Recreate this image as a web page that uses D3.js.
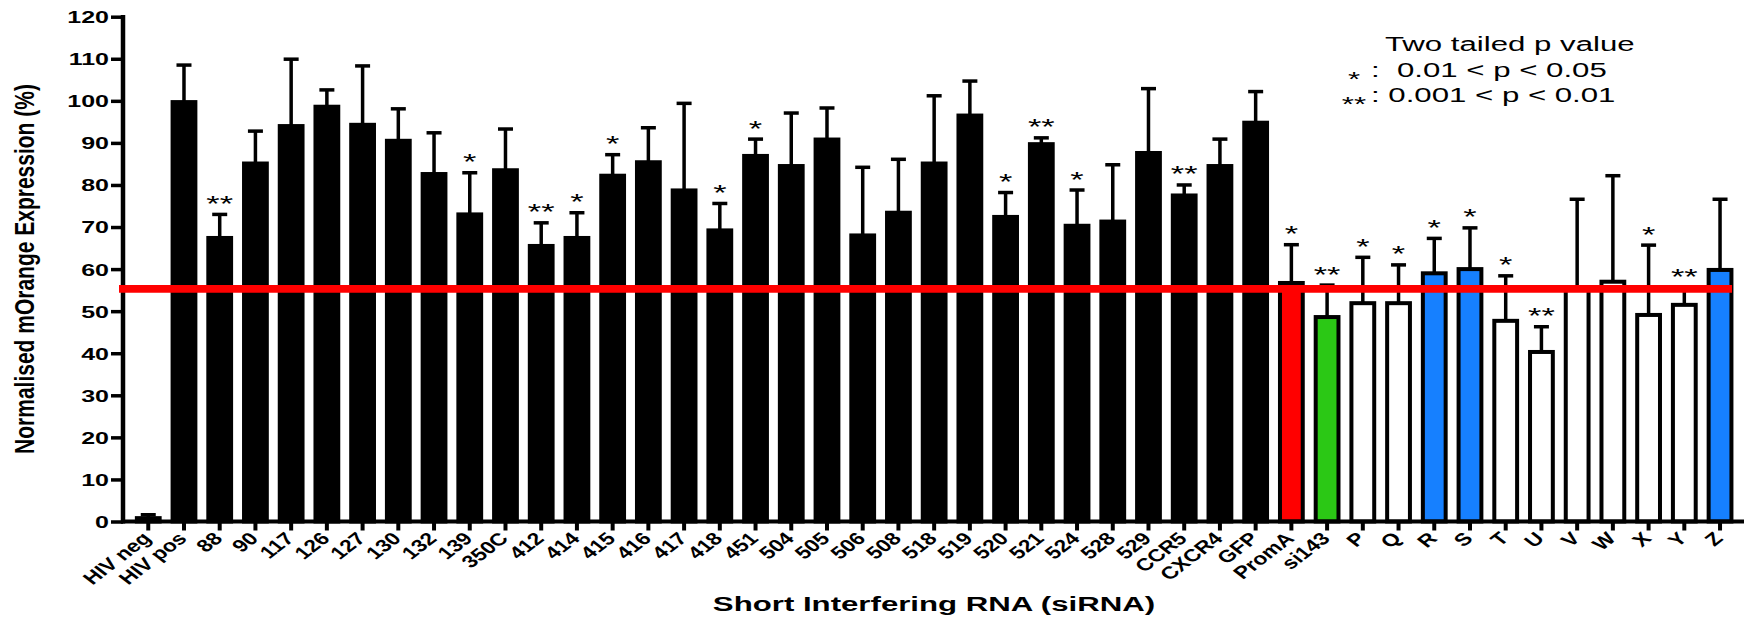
<!DOCTYPE html>
<html>
<head>
<meta charset="utf-8">
<script src="https://cdn.jsdelivr.net/npm/d3@7"></script>
<style>
  body { margin: 0; background: #fff; }
  svg { display: block; }
  text { font-family: "Liberation Sans", Arial, sans-serif; fill: #000; white-space: pre; }
</style>
</head>
<body>
<svg id="chart" width="1744" height="624"></svg>
<script>
// ---- data ----
const categories = ["HIV neg","HIV pos","88","90","117","126","127","130","132","139","350C","412","414","415","416","417","418","451","504","505","506","508","518","519","520","521","524","528","529","CCR5","CXCR4","GFP","PromA","si143","P","Q","R","S","T","U","V","W","X","Y","Z"];
const means = [0.8, 99.7, 67.4, 85.1, 94.0, 98.6, 94.3, 90.5, 82.6, 73.0, 83.5, 65.5, 67.4, 82.2, 85.4, 78.7, 69.2, 86.9, 84.5, 90.8, 68.0, 73.4, 85.1, 96.5, 72.4, 89.7, 70.3, 71.3, 87.6, 77.5, 84.5, 94.8, 56.7, 48.6, 51.9, 51.9, 59.0, 60.0, 47.7, 40.3, 55.5, 57.0, 49.1, 51.5, 59.8];
const sems = [0.8, 8.8, 5.6, 7.7, 15.9, 4.0, 14.0, 7.6, 9.8, 9.9, 9.8, 5.5, 6.0, 5.0, 8.2, 20.7, 6.4, 4.0, 12.6, 7.5, 16.2, 12.7, 16.1, 8.2, 5.8, 1.5, 8.5, 13.5, 15.3, 2.5, 6.4, 7.4, 9.1, 7.6, 10.9, 9.1, 8.3, 9.8, 10.7, 6.0, 21.1, 25.2, 16.6, 4.1, 16.8];
const significance = ["","","**","","","","","","","*","","**","*","*","","","*","*","","","","","","","*","**","*","","","**","","","*","**","*","*","*","*","*","**","","","*","**",""];
const barGroups = ["screen","screen","screen","screen","screen","screen","screen","screen","screen","screen","screen","screen","screen","screen","screen","screen","screen","screen","screen","screen","screen","screen","screen","screen","screen","screen","screen","screen","screen","screen","screen","screen","promA","si143","candidate","candidate","selected","selected","candidate","candidate","candidate","candidate","candidate","candidate","selected"];
const yTicks = [0, 10, 20, 30, 40, 50, 60, 70, 80, 90, 100, 110, 120];
const threshold = 55.3;
const yTitle = "Normalised mOrange Expression (%)";
const xTitle = "Short Interfering RNA (siRNA)";
const legendTitle = "Two tailed p value";
const legendStars = ["*", "**"];
const legendRanges = [":  0.01 < p < 0.05", ": 0.001 < p < 0.01"];

// ---- styling ----
const groupFill = { screen: "#000000", promA: "#ff0000", si143: "#2bc815", candidate: "#ffffff", selected: "#1680ff" };
const SX = 1.56;            // horizontal stretch applied to the lettering
const svg = d3.select("#chart");

const x = d3.scaleBand().domain(categories).range([130.4, 1737.9]).paddingInner(0.25).paddingOuter(0.125);
const y = d3.scaleLinear().domain([0, 120]).range([521.5, 16.7]);
const cx = d => x(d) + x.bandwidth() / 2;

// bars
svg.append("g").selectAll("rect").data(categories).join("rect")
  .attr("x", d => x(d) + 2)
  .attr("width", x.bandwidth() - 4)
  .attr("y", (d, i) => y(means[i]))
  .attr("height", (d, i) => y(0) - y(means[i]))
  .attr("fill", (d, i) => groupFill[barGroups[i]])
  .attr("stroke", "#000")
  .attr("stroke-width", 4);

// error bars (upper half only)
const eb = svg.append("g").attr("stroke", "#000").attr("stroke-width", 3.5);
categories.forEach((c, i) => {
  const top = y(means[i] + sems[i]);
  eb.append("line").attr("x1", cx(c)).attr("x2", cx(c)).attr("y1", y(means[i])).attr("y2", top);
  eb.append("line").attr("x1", cx(c) - 7.5).attr("x2", cx(c) + 7.5).attr("y1", top).attr("y2", top);
});

// y axis
const yAxis = d3.axisLeft(y).tickValues(yTicks).tickSize(12).tickSizeOuter(0);
const gy = svg.append("g").attr("transform", "translate(123,0)").call(yAxis);
gy.select(".domain").remove();
gy.selectAll(".tick line").attr("stroke", "#000").attr("stroke-width", 3.5);
gy.selectAll(".tick text")
  .attr("x", null).attr("dy", "0.37em")
  .attr("transform", `translate(-14,0) scale(${SX},1)`)
  .style("font-size", "16px").style("font-weight", "bold")
  .attr("text-anchor", "end").attr("fill", "#000");
svg.append("line").attr("x1", 123).attr("x2", 123).attr("y1", y(120) - 1.75).attr("y2", 523.5)
  .attr("stroke", "#000").attr("stroke-width", 4.5);

// x axis
const xAxis = d3.axisBottom(x).tickSize(9).tickSizeOuter(0);
const gx = svg.append("g").attr("transform", `translate(0,${y(0)})`).call(xAxis);
gx.select(".domain").remove();
gx.selectAll(".tick line").attr("stroke", "#000").attr("stroke-width", 4);
gx.selectAll(".tick text")
  .attr("y", null).attr("dy", null)
  .attr("transform", "translate(4,18) scale(1.3,1) rotate(-45)")
  .attr("text-anchor", "end").attr("fill", "#000")
  .style("font-size", "17.5px").style("font-weight", "bold");
svg.append("line").attr("x1", 121).attr("x2", 1744).attr("y1", y(0)).attr("y2", y(0))
  .attr("stroke", "#000").attr("stroke-width", 4);

// threshold line
svg.append("line").attr("x1", 119).attr("x2", 1732).attr("y1", y(threshold)).attr("y2", y(threshold))
  .attr("stroke", "#ff0000").attr("stroke-width", 7.7);

// significance stars
svg.append("g").selectAll("text").data(categories.filter((c, i) => significance[i])).join("text")
  .attr("transform", d => {
    const i = categories.indexOf(d);
    return `translate(${cx(d)},${y(means[i] + sems[i]) - 3.5}) scale(${SX},1)`;
  })
  .attr("text-anchor", "middle")
  .style("font-size", "22px")
  .text(d => significance[categories.indexOf(d)]);

// axis titles
svg.append("text")
  .attr("transform", "translate(34,269) rotate(-90) scale(1,1.3)")
  .attr("text-anchor", "middle")
  .style("font-size", "21px").style("font-weight", "bold")
  .text(yTitle);
svg.append("text")
  .attr("transform", `translate(934,610.5) scale(${SX},1)`)
  .attr("text-anchor", "middle")
  .style("font-size", "20px").style("font-weight", "bold")
  .text(xTitle);

// p-value key
svg.append("text").attr("transform", `translate(1385,50.7) scale(${SX},1)`)
  .style("font-size", "20px").text(legendTitle);
const rowBase = [77.3, 101.7];
const starBase = [85.5, 111];
legendRanges.forEach((t, k) => {
  svg.append("text").attr("transform", `translate(1371,${rowBase[k]}) scale(${SX},1)`)
    .style("font-size", "20px").text(t);
  svg.append("text").attr("transform", `translate(1354,${starBase[k]}) scale(${SX},1)`)
    .attr("text-anchor", "middle").style("font-size", "20px").text(legendStars[k]);
});
</script>
</body>
</html>
